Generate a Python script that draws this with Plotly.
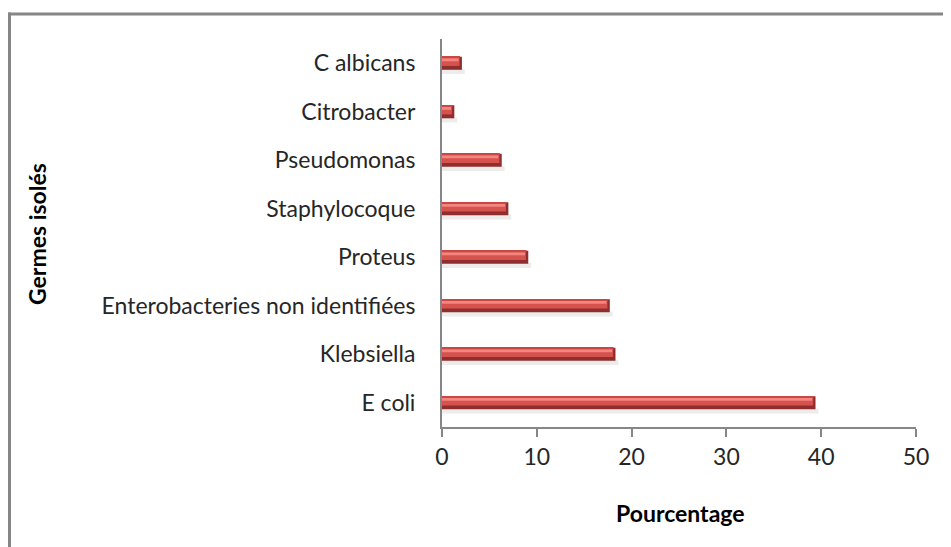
import plotly.graph_objects as go

categories = ["E coli", "Klebsiella", "Enterobacteries non identifiées", "Proteus",
              "Staphylocoque", "Pseudomonas", "Citrobacter", "C albicans"]
values = [39.4, 18.3, 17.7, 9.1, 7.0, 6.3, 1.3, 2.1]
x_ticks = [0, 10, 20, 30, 40, 50]
x_title = "Pourcentage"
y_title = "Germes isolés"

OFF = 8  # default page body margin
W, H = 951 - OFF, 547 - OFF
ML, MR, MT, MB = 442 - OFF, 951 - 916, 39 - OFF, 547 - 427
PW, PH = W - ML - MR, H - MT - MB

def px_x(px):  # page pixel -> paper coord
    return (px - OFF - ML) / PW

def px_y(py):
    return (H - MB - (py - OFF)) / PH

FONT = "Lato"
FS = 23
TXT = "#262626"
fig = go.Figure()

def layer(x, width, offset, color, hover=False):
    fig.add_trace(go.Bar(y=categories, x=x, orientation="h", width=width, offset=offset,
                         marker=dict(color=color, line=dict(width=0)),
                         hoverinfo=None if hover else "skip", showlegend=False))

# soft shadow below bars
layer([v + 0.3 for v in values], 0.1, -0.22, "rgba(150,150,150,0.18)")
# dark bottom / end cap
layer(values, 0.27, -0.135, "#8F2E2C", hover=True)
# main red face
layer([v - 0.25 for v in values], 0.19, -0.055, "#D6524F")
# light highlight band
layer([v - 0.35 for v in values], 0.06, 0.04, "#F5857F")
# top edge
layer([v - 0.2 for v in values], 0.025, 0.11, "#C84845")

fig.update_layout(
    width=W, height=H,
    margin=dict(l=ML, r=MR, t=MT, b=MB, pad=0),
    barmode="overlay",
    plot_bgcolor="white", paper_bgcolor="white",
    font=dict(family=FONT, size=FS, color=TXT),
    xaxis=dict(range=[0, 50], tickvals=x_ticks, ticks="outside", ticklen=8,
               tickcolor="#868686", tickwidth=2, showline=True, linecolor="#868686",
               linewidth=2, showgrid=False, zeroline=False,
               tickfont=dict(family=FONT, size=FS, color=TXT),
               fixedrange=True),
    yaxis=dict(type="category", categoryorder="array", categoryarray=categories,
               range=[-0.5, 7.5], showline=True, linecolor="#868686", linewidth=2,
               ticks="", ticklabelstandoff=20, showgrid=False, zeroline=False,
               tickfont=dict(family=FONT, size=FS, color=TXT),
               fixedrange=True),
    annotations=[
        dict(text="<b>" + x_title + "</b>", xref="paper", yref="paper",
             x=px_x(680), y=px_y(513), xanchor="center", yanchor="middle",
             showarrow=False, font=dict(family=FONT, size=FS, color="#000")),
        dict(text="<b>" + y_title + "</b>", xref="paper", yref="paper",
             x=px_x(37), y=px_y(234), xanchor="center", yanchor="middle",
             showarrow=False, textangle=-90,
             font=dict(family=FONT, size=FS, color="#000")),
    ],
    shapes=[
        dict(type="line", xref="paper", yref="paper", x0=px_x(8), x1=px_x(970),
             y0=px_y(14), y1=px_y(14), line=dict(color="#868686", width=3)),
        dict(type="line", xref="paper", yref="paper", x0=px_x(9.5), x1=px_x(9.5),
             y0=px_y(12.5), y1=px_y(570), line=dict(color="#868686", width=3)),
    ],
)

fig.write_html("out.html")
